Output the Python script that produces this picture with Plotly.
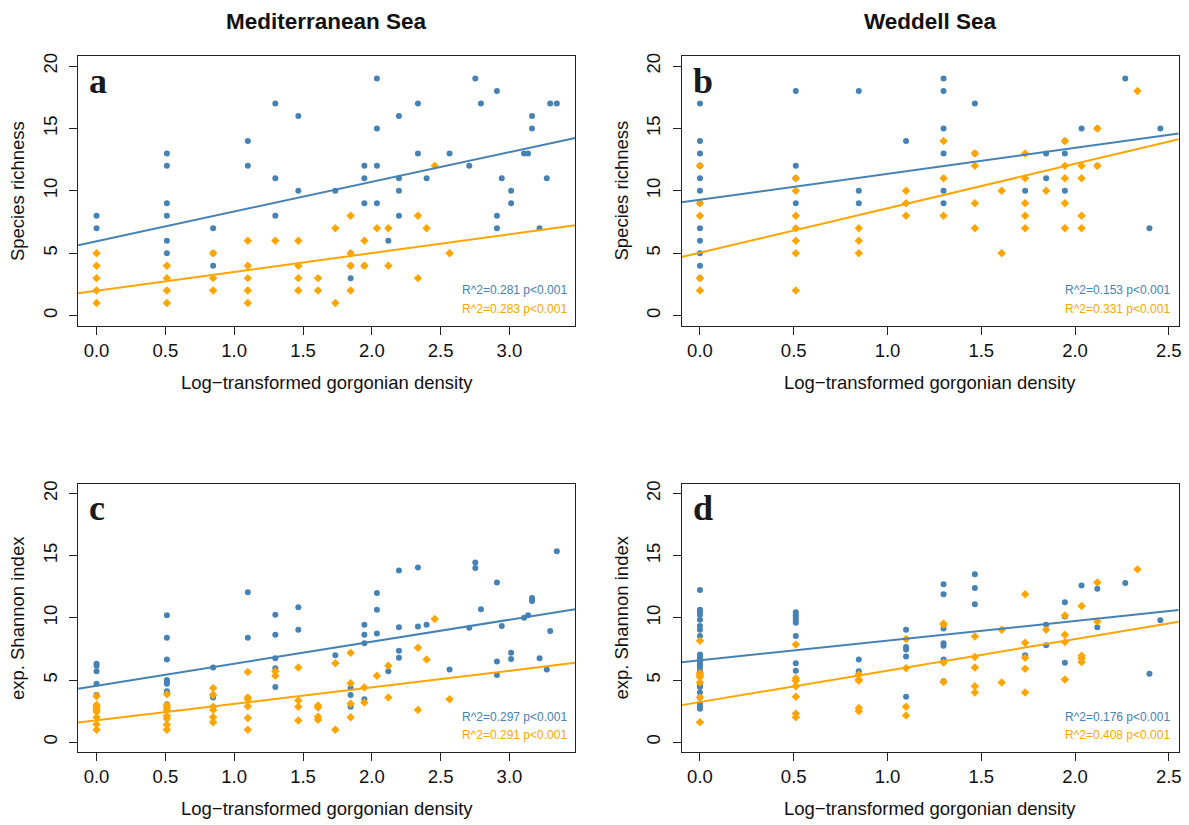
import plotly.graph_objects as go

W, H = 1189, 825

# ---------------- data ----------------
# Panel a: Mediterranean Sea, species richness
a_blue_xs = [0.0, 0.511, 0.847, 1.099, 1.299, 1.466, 1.735, 1.846, 1.946, 2.037, 2.120, 2.197, 2.335, 2.398,
             2.565, 2.708, 2.752, 2.793, 2.909, 2.944, 3.012, 3.106, 3.135, 3.164, 3.219, 3.271, 3.296, 3.344]
a_blue_ys = [[8, 7], [13, 12, 9, 8, 6, 5], [7, 5, 4], [14, 12], [17, 11, 8], [16, 10], [10], [5, 4, 3],
             [12, 11, 9, 4], [19, 15, 12, 9], [6], [16, 11, 10, 8], [17, 13], [11], [13], [12], [19], [17],
             [18, 8, 7], [11], [10, 9], [13], [13], [16, 15], [7], [11], [17], [17]]
a_orange_xs = [0.0, 0.511, 0.847, 1.099, 1.299, 1.466, 1.609, 1.735, 1.846, 1.946, 2.037, 2.120, 2.335, 2.398,
               2.457, 2.565]
a_orange_ys = [[5, 4, 3, 2, 1], [4, 3, 2, 1], [5, 3, 2], [6, 4, 3, 2, 1], [6], [6, 4, 3, 2], [3, 2], [7, 1],
               [8, 5, 4, 2], [6, 4], [7], [7, 4], [8, 3], [7], [12], [5]]

# Panel b: Weddell Sea, species richness
b_blue_xs = [0.0, 0.511, 0.847, 1.099, 1.299, 1.466, 1.734, 1.846, 1.946, 2.035, 2.119, 2.268, 2.397, 2.455]
b_blue_ys = [[17, 14, 13, 12, 11, 10, 9, 7, 6, 5, 4, 3], [18, 12, 11, 9], [18, 10, 9], [14],
             [19, 18, 15, 13, 10, 9], [17, 13], [10], [13, 11], [14, 13, 10], [15], [15, 12], [19], [7], [15]]
b_orange_xs = [0.0, 0.511, 0.847, 1.099, 1.299, 1.466, 1.609, 1.734, 1.846, 1.946, 2.035, 2.119, 2.333]
b_orange_ys = [[12, 9, 8, 3, 2], [11, 10, 8, 7, 6, 5, 2], [7, 6, 5], [10, 9, 8], [14, 11, 8], [13, 12, 9, 7],
               [10, 5], [13, 11, 9, 8, 7], [10], [14, 12, 11, 9, 7], [12, 11, 8, 7], [15, 12], [18]]

# Panel c: Mediterranean Sea, exp. Shannon index
c_blue_xs = a_blue_xs
c_blue_ys = [[6.3, 6.15, 5.7, 4.7, 3.8], [10.2, 8.4, 6.65, 5.0, 4.85, 4.7, 4.1, 3.05, 1.9], [6.0, 3.8, 3.6],
             [12.05, 8.4], [10.25, 8.65, 6.75, 5.95, 4.45], [10.85, 9.05], [7.0], [4.35, 3.8, 2.85],
             [9.45, 8.65, 7.95, 3.45], [12.0, 10.65, 8.75], [5.7], [13.8, 9.25, 7.35, 6.8], [14.05, 9.3],
             [9.45], [5.85], [9.2], [14.45, 14.0], [10.7], [12.85, 6.5, 5.4], [9.35], [7.2, 6.7], [10.0],
             [10.2], [11.6, 11.35], [6.75], [5.85], [8.95], [15.35]]
c_orange_xs = a_orange_xs
c_orange_ys = [[3.7, 3.0, 2.8, 2.6, 2.45, 2.0, 1.45, 1.0], [3.85, 3.0, 2.8, 2.6, 2.1, 1.9, 1.4, 1.0],
               [4.35, 3.8, 2.85, 2.6, 2.0, 1.6], [5.65, 3.6, 3.45, 2.9, 1.95, 1.0], [5.7, 5.35],
               [6.0, 3.35, 2.85, 1.75], [2.95, 2.8, 2.05, 1.8], [6.35, 1.0], [7.2, 4.75, 3.1, 2.0], [4.4, 3.2],
               [5.35], [6.15, 3.6], [7.6, 2.6], [6.65], [9.9], [3.45]]

# Panel d: Weddell Sea, exp. Shannon index
d_blue_xs = b_blue_xs
d_blue_ys = [[12.25, 10.65, 10.5, 10.25, 9.85, 9.35, 9.05, 8.55, 7.05, 6.85, 6.65, 6.45, 6.25, 6.05, 5.75,
              4.6, 4.45, 4.0, 3.6, 3.1, 2.9, 2.7],
             [10.45, 10.2, 10.0, 9.8, 9.6, 8.55, 6.35, 5.75], [6.65, 5.7], [9.05, 7.65, 7.45, 6.9, 3.65],
             [12.7, 11.9, 9.15, 7.95, 7.75, 6.65, 4.9], [13.5, 12.4, 11.1], [7.0], [9.45, 7.8],
             [11.25, 10.1, 6.4], [12.6], [12.35, 9.25], [12.8], [5.5], [9.8]]
d_orange_xs = b_orange_xs
d_orange_ys = [[8.15, 5.55, 5.4, 5.25, 4.8, 3.6, 1.6], [7.85, 5.15, 4.95, 4.5, 3.65, 2.3, 2.0],
               [5.45, 5.05, 4.95, 2.75, 2.5], [8.3, 5.95, 2.85, 2.15], [9.55, 9.45, 6.4, 4.85],
               [8.5, 6.85, 6.0, 4.5, 4.0], [9.05, 4.8], [11.9, 8.0, 6.8, 5.9, 4.0], [9.05],
               [10.2, 8.65, 8.05, 5.05], [10.95, 6.95, 6.75, 6.45], [12.85, 9.7], [13.9]]

# Regression lines (intercept, slope) for panels a, b, c, d
fit_blue_intercept = [5.96, 9.28, 4.54, 6.59]
fit_blue_slope = [2.38, 2.08, 1.77, 1.58]
fit_orange_intercept = [1.99, 5.04, 1.76, 3.23]
fit_orange_slope = [1.51, 3.56, 1.33, 2.53]

r2_blue = ["0.281", "0.153", "0.297", "0.176"]
r2_orange = ["0.283", "0.331", "0.291", "0.408"]

panel_letters = ["a", "b", "c", "d"]
column_titles = ["Mediterranean Sea", "Weddell Sea"]
y_titles = ["Species richness", "exp. Shannon index"]
x_title = "Log\u2212transformed gorgonian density"

med_ticks = [0.0, 0.5, 1.0, 1.5, 2.0, 2.5, 3.0]
wed_ticks = [0.0, 0.5, 1.0, 1.5, 2.0, 2.5]
y_ticks = [0, 5, 10, 15, 20]

# ---------------- layout helpers ----------------
BLUE = "#4682B4"
ORANGE = "#FFA500"
FONT = "Liberation Sans, Arial, Helvetica, sans-serif"


def fx(p):
    return p / W


def fy(p):
    return 1 - p / H


def flatten(xs, ys):
    ox, oy = [], []
    for x, group in zip(xs, ys):
        for v in group:
            ox.append(x)
            oy.append(v)
    return ox, oy


# plot boxes in pixels: (left, right, top, bottom)
boxes = [(78.3, 576.7, 53.3, 323.7), (683.3, 1181.7, 53.3, 323.7),
         (78.3, 576.7, 482.3, 751.9), (683.3, 1181.7, 482.3, 751.9)]
xranges = [[-0.134, 3.478], [-0.098, 2.553], [-0.134, 3.478], [-0.098, 2.553]]
yrange = [-0.8, 20.8]
xticks = [med_ticks, wed_ticks, med_ticks, wed_ticks]

panels = [(a_blue_xs, a_blue_ys, a_orange_xs, a_orange_ys),
          (b_blue_xs, b_blue_ys, b_orange_xs, b_orange_ys),
          (c_blue_xs, c_blue_ys, c_orange_xs, c_orange_ys),
          (d_blue_xs, d_blue_ys, d_orange_xs, d_orange_ys)]

fig = go.Figure()
annotations = []

for i, (bx, by, ox, oy) in enumerate(panels):
    suffix = "" if i == 0 else str(i + 1)
    xa, ya = "x" + suffix, "y" + suffix
    bxf, byf = flatten(bx, by)
    oxf, oyf = flatten(ox, oy)
    fig.add_trace(go.Scatter(x=bxf, y=byf, mode="markers", xaxis=xa, yaxis=ya,
                             marker=dict(symbol="circle", size=6, color=BLUE, line=dict(width=0)),
                             showlegend=False, hoverinfo="skip"))
    fig.add_trace(go.Scatter(x=oxf, y=oyf, mode="markers", xaxis=xa, yaxis=ya,
                             marker=dict(symbol="diamond", size=6.5, color=ORANGE, line=dict(width=0)),
                             showlegend=False, hoverinfo="skip"))
    xr = xranges[i]
    fig.add_trace(go.Scatter(x=xr, y=[fit_blue_intercept[i] + fit_blue_slope[i] * v for v in xr],
                             mode="lines", xaxis=xa, yaxis=ya, line=dict(color=BLUE, width=2),
                             showlegend=False, hoverinfo="skip"))
    fig.add_trace(go.Scatter(x=xr, y=[fit_orange_intercept[i] + fit_orange_slope[i] * v for v in xr],
                             mode="lines", xaxis=xa, yaxis=ya, line=dict(color=ORANGE, width=2),
                             showlegend=False, hoverinfo="skip"))

    l, r, t, b = boxes[i]
    common = dict(showline=True, mirror=True, linecolor="#222", linewidth=1, ticks="outside",
                  ticklen=8, tickwidth=1, tickcolor="#222", showgrid=False, zeroline=False,
                  tickfont=dict(family=FONT, size=18.5, color="#111"), fixedrange=True)
    fig.layout["xaxis" + suffix] = dict(domain=[fx(l), fx(r)], anchor=ya, range=xr,
                                        tickvals=xticks[i], ticktext=["%.1f" % v for v in xticks[i]],
                                        **common)
    fig.layout["yaxis" + suffix] = dict(domain=[fy(b), fy(t)], anchor=xa, range=yrange,
                                        tickvals=y_ticks, tickangle=-90, ticklabelstandoff=5, **common)

    # panel letter
    annotations.append(dict(x=fx(l + 9), y=fy(t + 25), xref="paper", yref="paper", xanchor="left",
                            yanchor="middle", text="<b>%s</b>" % panel_letters[i], showarrow=False,
                            font=dict(family="Liberation Serif, Times New Roman, serif", size=36,
                                      color="#1a1a1a")))
    # R^2 labels
    annotations.append(dict(x=fx(r - 6.5), y=fy(b - 35.5), xref="paper", yref="paper", xanchor="right",
                            yanchor="middle", text="R^2=%s p<0.001" % r2_blue[i], showarrow=False,
                            font=dict(family=FONT, size=12, color=BLUE)))
    annotations.append(dict(x=fx(r - 6.5), y=fy(b - 17), xref="paper", yref="paper", xanchor="right",
                            yanchor="middle", text="R^2=%s p<0.001" % r2_orange[i], showarrow=False,
                            font=dict(family=FONT, size=12, color=ORANGE)))
    # x axis title
    annotations.append(dict(x=fx((l + r) / 2), y=fy(b + 57), xref="paper", yref="paper",
                            xanchor="center", yanchor="middle", text=x_title, showarrow=False,
                            font=dict(family=FONT, size=18.5, color="#111")))
    # y axis title
    annotations.append(dict(x=fx(l - 60), y=fy((t + b) / 2), xref="paper", yref="paper",
                            xanchor="center", yanchor="middle", text=y_titles[i // 2], textangle=-90,
                            showarrow=False, font=dict(family=FONT, size=18.5, color="#111")))

# column titles
for j, title in enumerate(column_titles):
    l, r, t, b = boxes[j]
    annotations.append(dict(x=fx((l + r) / 2), y=fy(19), xref="paper", yref="paper", xanchor="center",
                            yanchor="middle", text="<b>%s</b>" % title, showarrow=False,
                            font=dict(family=FONT, size=22.5, color="#111")))

fig.update_layout(width=W, height=H, autosize=False, margin=dict(l=0, r=0, t=0, b=0),
                  paper_bgcolor="white", plot_bgcolor="white", annotations=annotations,
                  showlegend=False)

fig.write_html("out.html")
